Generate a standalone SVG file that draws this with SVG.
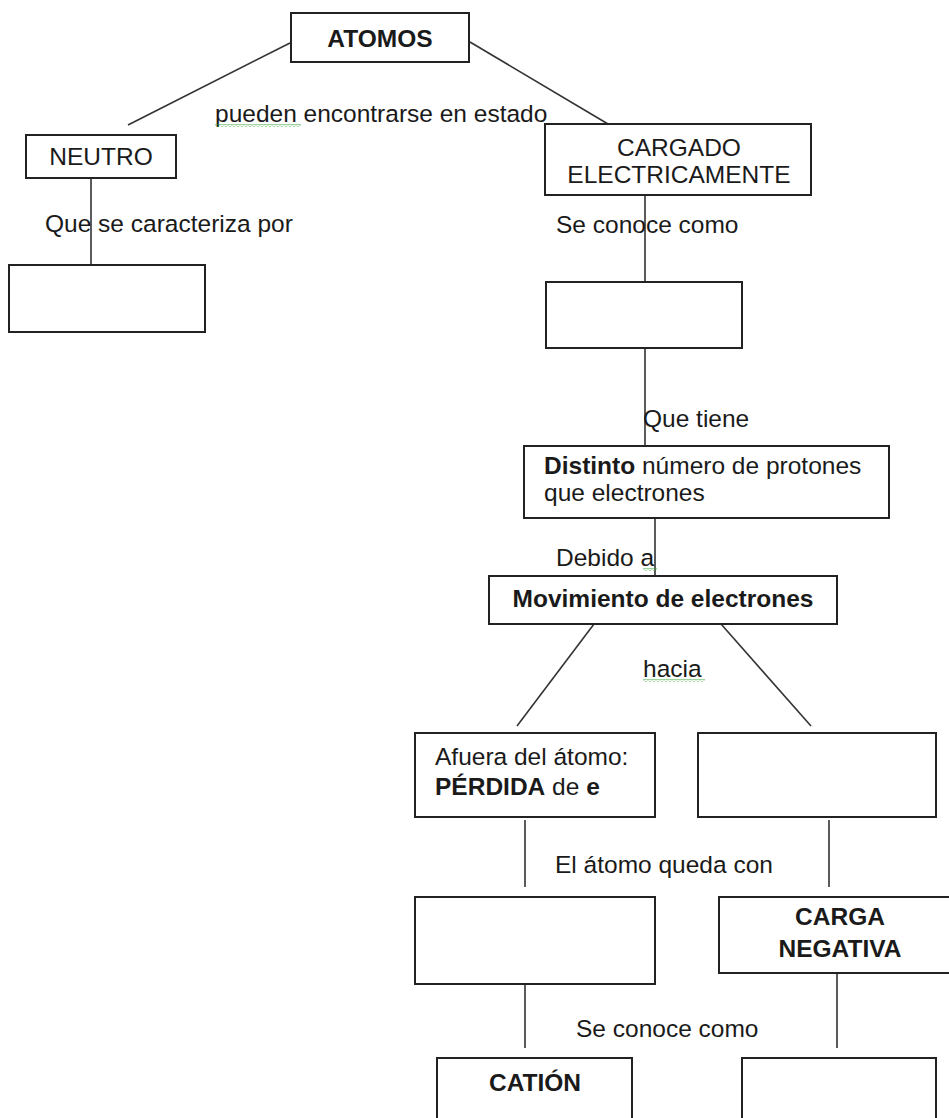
<svg xmlns="http://www.w3.org/2000/svg" width="949" height="1118" viewBox="0 0 949 1118">
<defs>
<style>
.box{fill:#fff;stroke:#222;stroke-width:2}
.ln{stroke:#333;stroke-width:1.6;fill:none}
text{font-family:"Liberation Sans",Arial,sans-serif;font-size:24.5px;fill:#1a1a1a}
.b{font-weight:bold}
.c{text-anchor:middle}
</style>
<pattern id="squig" x="0" y="0" width="4" height="3" patternUnits="userSpaceOnUse">
<polyline points="0,2.5 2,0.5 4,2.5" fill="none" stroke="#3aa53a" stroke-width="1"/>
</pattern>
</defs>
<rect width="949" height="1118" fill="#fff"/>

<g id="connectors">
<line class="ln" x1="290" y1="43" x2="128" y2="125"/>
<line class="ln" x1="470" y1="42" x2="608" y2="124"/>
<line class="ln" x1="91" y1="178" x2="91" y2="265"/>
<line class="ln" x1="645" y1="195" x2="645" y2="282"/>
<line class="ln" x1="645" y1="348" x2="645" y2="446"/>
<line class="ln" x1="655" y1="518" x2="655" y2="576"/>
<line class="ln" x1="594" y1="624" x2="517" y2="726"/>
<line class="ln" x1="721" y1="624" x2="811" y2="726"/>
<line class="ln" x1="525" y1="820" x2="525" y2="887"/>
<line class="ln" x1="829" y1="820" x2="829" y2="887"/>
<line class="ln" x1="525" y1="984" x2="525" y2="1048"/>
<line class="ln" x1="837" y1="973" x2="837" y2="1048"/>
</g>

<g id="labels">
<text x="215" y="122">pueden encontrarse en estado</text>
<rect x="215" y="124" width="86" height="3" fill="url(#squig)"/>
<text x="45" y="232">Que se caracteriza por</text>
<text x="556" y="233">Se conoce como</text>
<text x="643" y="427">Que tiene</text>
<text x="556" y="566">Debido a</text>
<rect x="643" y="568" width="14" height="3" fill="url(#squig)"/>
<text x="643" y="677">hacia</text>
<rect x="643" y="679" width="62" height="3" fill="url(#squig)"/>
<text x="555" y="873">El átomo queda con</text>
<text x="576" y="1037">Se conoce como</text>
</g>

<g id="atomos">
<rect class="box" x="291" y="13" width="178" height="49"/>
<text class="b c" x="380" y="47">ATOMOS</text>
</g>

<g id="neutro">
<rect class="box" x="26" y="135" width="150" height="43"/>
<text class="c" x="101" y="165">NEUTRO</text>
</g>

<g id="neutro-caracteristica">
<rect class="box" x="9" y="265" width="196" height="67"/>
</g>

<g id="cargado">
<rect class="box" x="545" y="124" width="266" height="71"/>
<text class="c" x="679" y="156">CARGADO</text>
<text class="c" x="679" y="183">ELECTRICAMENTE</text>
</g>

<g id="cargado-nombre">
<rect class="box" x="546" y="282" width="196" height="66"/>
</g>

<g id="distinto">
<rect class="box" x="524" y="446" width="365" height="72"/>
<text x="544" y="474"><tspan class="b">Distinto</tspan> número de protones</text>
<text x="544" y="501">que electrones</text>
</g>

<g id="movimiento">
<rect class="box" x="489" y="576" width="348" height="48"/>
<text class="b c" x="663" y="607">Movimiento de electrones</text>
</g>

<g id="afuera">
<rect class="box" x="415" y="733" width="240" height="84"/>
<text x="435" y="765">Afuera del átomo:</text>
<text x="435" y="795"><tspan class="b">PÉRDIDA</tspan> de <tspan class="b">e</tspan></text>
</g>

<g id="dentro">
<rect class="box" x="698" y="733" width="238" height="84"/>
</g>

<g id="carga-positiva">
<rect class="box" x="415" y="897" width="240" height="87"/>
</g>

<g id="carga-negativa">
<rect class="box" x="719" y="897" width="250" height="76"/>
<text class="b c" x="840" y="925">CARGA</text>
<text class="b c" x="840" y="957">NEGATIVA</text>
</g>

<g id="cation">
<rect class="box" x="437" y="1058" width="195" height="80"/>
<text class="b c" x="535" y="1091">CATIÓN</text>
</g>

<g id="anion">
<rect class="box" x="742" y="1058" width="194" height="80"/>
</g>
</svg>
